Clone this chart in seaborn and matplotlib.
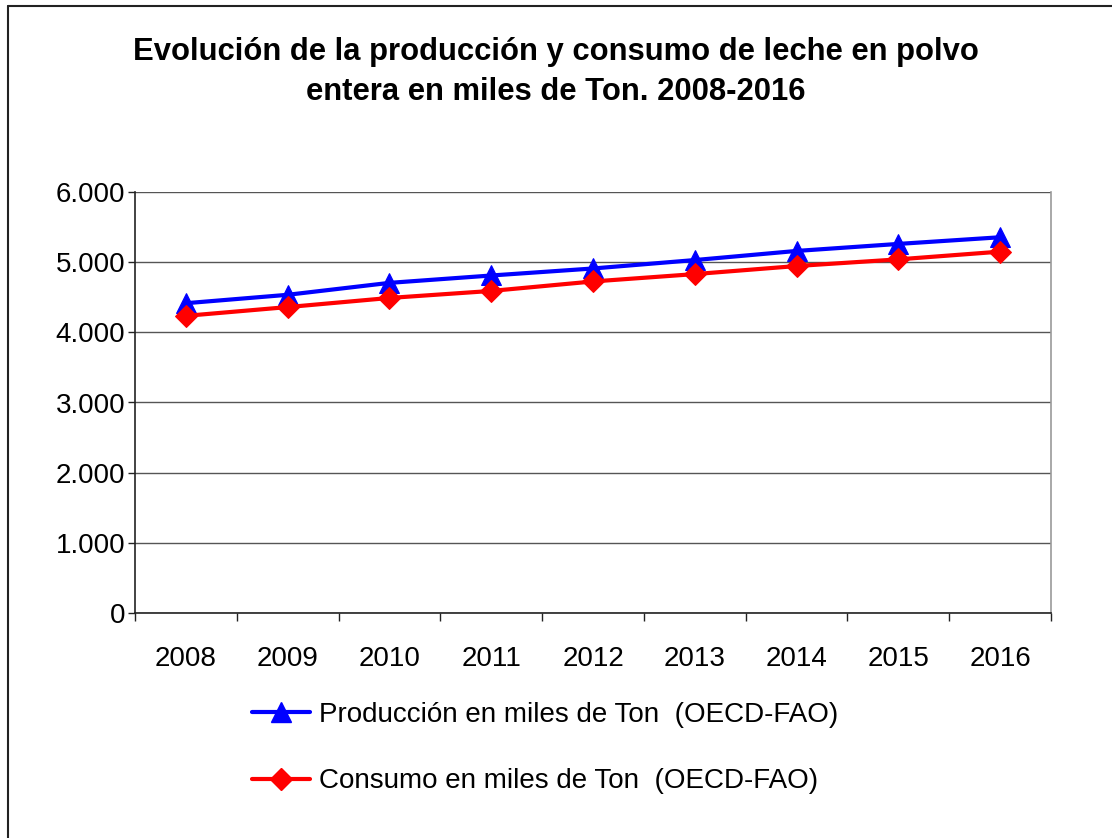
import numpy as np
import pandas as pd
import matplotlib
matplotlib.use("Agg")
import matplotlib.pyplot as plt
import seaborn as sns
from matplotlib.ticker import FuncFormatter, FixedLocator
from matplotlib.lines import Line2D

# data (thousand tonnes)
years = ["2008", "2009", "2010", "2011", "2012", "2013", "2014", "2015", "2016"]
produccion = [4415, 4535, 4705, 4810, 4910, 5030, 5160, 5260, 5355]
consumo = [4235, 4360, 4490, 4590, 4725, 4830, 4945, 5040, 5150]
lab_prod = "Producción en miles de Ton  (OECD-FAO)"
lab_cons = "Consumo en miles de Ton  (OECD-FAO)"
titulo = "Evolución de la producción y consumo de leche en polvo\nentera en miles de Ton. 2008-2016"

sns.set_style("white")
plt.rcParams['font.family'] = ['Liberation Sans', 'DejaVu Sans']
plt.rcParams['text.color'] = 'black'
plt.rcParams['xtick.labelcolor'] = 'black'
plt.rcParams['ytick.labelcolor'] = 'black'

df = pd.DataFrame({"pos": np.arange(len(years)), "prod": produccion, "cons": consumo})

fig = plt.figure(figsize=(11.12, 8.38), dpi=100)
ax = fig.add_axes([135 / 1112, 1 - 613 / 838, 916 / 1112, 421 / 838])

sns.lineplot(data=df, x="pos", y="prod", ax=ax, color="#0000ff", lw=3,
             marker="^", markersize=14, markeredgecolor="#0000ff", zorder=4)
sns.lineplot(data=df, x="pos", y="cons", ax=ax, color="#ff0000", lw=3,
             marker="D", markersize=11, markeredgecolor="#ff0000", zorder=5)

ax.set_xlim(-0.5, len(years) - 0.5)
ax.set_ylim(0, 6000)
ax.set_yticks(np.arange(0, 6001, 1000))
ax.yaxis.set_major_formatter(FuncFormatter(lambda v, p: f"{v:,.0f}".replace(",", ".")))
ax.grid(axis="y", color="#555555", lw=1)
ax.set_axisbelow(True)

# category labels centred, tick marks between categories
ax.xaxis.set_major_locator(FixedLocator(np.arange(len(years) + 1) - 0.5))
ax.xaxis.set_minor_locator(FixedLocator(np.arange(len(years))))
ax.set_xticklabels([])
ax.set_xticklabels(years, minor=True)
ax.tick_params(axis="x", which="major", direction="out", length=6, width=1, color="#222222", bottom=True)
ax.tick_params(axis="x", which="minor", length=0, pad=24, labelsize=20)
ax.tick_params(axis="y", direction="out", length=5, width=1, color="#222222", left=True, pad=2, labelsize=20)
ax.set_xlabel("")
ax.set_ylabel("")

for side in ["left", "bottom"]:
    ax.spines[side].set_color("#222222")
    ax.spines[side].set_linewidth(1.2)
ax.spines["right"].set_color("#999999")
ax.spines["right"].set_linewidth(1.2)
ax.spines["top"].set_visible(False)

fig.text(0.5, 1 - 72 / 838, titulo, ha="center", va="center", fontsize=22.3,
         fontweight="bold", linespacing=1.43)

handles = [
    Line2D([], [], color="#0000ff", lw=3, marker="^", markersize=14),
    Line2D([], [], color="#ff0000", lw=3, marker="D", markersize=11),
]
fig.legend(handles, [lab_prod, lab_cons], loc="upper left",
           bbox_to_anchor=(227 / 1112, 1 - 677 / 838), frameon=False,
           fontsize=20, handlelength=2.1, handletextpad=0.3, labelspacing=1.45)

# outer chart border (only top and left visible in the crop)
fig.add_artist(Line2D([8 / 1112, 8 / 1112], [0, 1 - 6 / 838], transform=fig.transFigure,
                      color="#222222", lw=1.5))
fig.add_artist(Line2D([8 / 1112, 1], [1 - 6 / 838, 1 - 6 / 838], transform=fig.transFigure,
                      color="#222222", lw=1.5))

fig.savefig("out.png", dpi=100)
